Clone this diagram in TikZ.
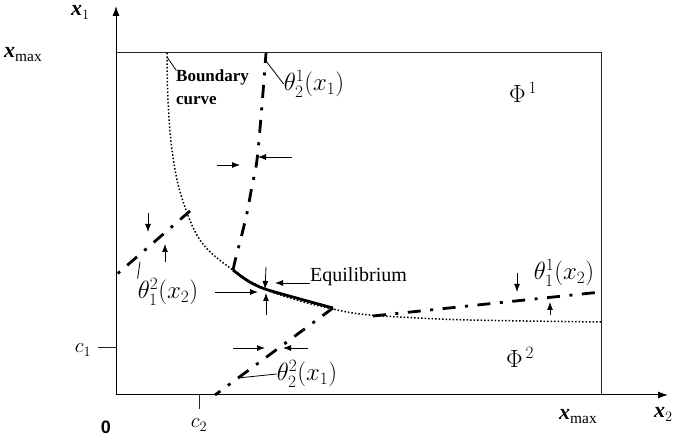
\documentclass[tikz,border=0pt]{standalone}
\usepackage{amsmath}
\usepackage{fontspec}
\setmainfont{Liberation Serif}
\newfontfamily\zerofont{Liberation Sans}
\usetikzlibrary{arrows.meta}

\begin{document}
\begin{tikzpicture}[
    x=1pt, y=-1pt,
    axis/.style={-{Latex[length=10pt,width=7pt]}, line width=1pt},
    frame/.style={line width=1pt, draw=black!85},
    bcurve/.style={line width=1.5pt, dash pattern=on 1.5pt off 2pt},
    react/.style={line width=2.8pt, dash pattern=on 13pt off 9.5pt on 3pt off 9.5pt},
    eqcurve/.style={line width=2.8pt},
    pin/.style={-{Latex[length=8pt,width=6pt]}, line width=0.8pt},
    lead/.style={line width=0.8pt},
    lab/.style={inner sep=0pt, font=\fontsize{20}{23}\selectfont},
    mlab/.style={inner sep=0pt, font=\fontsize{25}{27}\selectfont},
    axlab/.style={inner sep=0pt, font=\fontsize{22}{24}\selectfont}
]
\useasboundingbox (0,0) rectangle (681,443);

% axes and admissible box
\coordinate (O) at (116,395);
\coordinate (ytop) at (116,6);
\coordinate (xend) at (668,395);
\coordinate (tl) at (116,53);
\coordinate (br) at (601,395);
\draw[axis] (O) -- (ytop);
\draw[axis] (O) -- (xend);
\draw[frame] (tl) -| (br);

% ticks
\coordinate (c1tick) at (116,348);
\coordinate (c2tick) at (199,395);
\draw[frame] (c1tick) -- ++(-18,0);
\draw[frame] (c2tick) -- ++(0,14);

% axis labels
\node[axlab, anchor=base west] (x1lab) at (71,16) {\textbf{\textit{x}}$_1$};
\node[axlab, anchor=base west] (xmaxl) at (4,58) {\textbf{\textit{x}}$_{\mathrm{max}}$};
\node[axlab, anchor=base west] (xmaxb) at (559,420) {\textbf{\textit{x}}$_{\mathrm{max}}$};
\node[axlab, anchor=base west] (x2lab) at (654,418) {\textbf{\textit{x}}$_2$};
\node[inner sep=0pt, font=\zerofont\bfseries\fontsize{18}{18}\selectfont] (zero) at (106,427) {0};
\node[inner sep=0pt, font=\fontsize{20}{20}\selectfont] (c1lab) at (83,350) {$c_1$};
\node[inner sep=0pt, font=\fontsize{20}{20}\selectfont] (c2lab) at (199,425) {$c_2$};

% regions
\node[mlab] (phi1) at (523,92) {$\Phi^{\,1}$};
\node[mlab] (phi2) at (520,357) {$\Phi^{\,2}$};

% boundary curve
\draw[bcurve] plot[smooth, tension=0.6] coordinates {(167,53) (168,100) (172,150) (181,195)
    (200,240) (230,268) (265,289) (300,301) (333,309) (360,314) (400,317) (470,320) (601,322)};

% reaction curves
\coordinate (kink) at (233,270);
\coordinate (eq) at (265,289);
\coordinate (meet) at (333,308);
\draw[react] plot[smooth] coordinates {(kink) (236,257) (241,238) (247,213) (252,186) (257,160) (262,105) (266,53)};
\draw[eqcurve] plot[smooth] coordinates {(kink) (248,281) (eq) (300,299) (meet)};
\coordinate (t12a) at (190,211);
\coordinate (t12b) at (116,275);
\draw[react] (t12a) -- (t12b);
\coordinate (t22b) at (215,395);
\draw[react] (meet) -- (t22b);
\coordinate (t11a) at (373,316);
\coordinate (t11b) at (601,292);
\draw[react] (t11a) -- (t11b);

% curve labels
\node[lab, font=\fontsize{17}{23}\selectfont\bfseries, anchor=north west, align=left] (bnd) at (176,70) {Boundary\\curve};
\node[lab, anchor=base west] (equil) at (310,282) {Equilibrium};
\node[mlab] (th21) at (314,84) {$\theta_2^1(x_1)$};
\node[mlab] (th11) at (564,273) {$\theta_1^1(x_2)$};
\node[mlab] (th12) at (168,292) {$\theta_1^2(x_2)$};
\node[mlab] (th22) at (307,374) {$\theta_2^2(x_1)$};

% leaders
\coordinate (bndpt) at (167,57);
\coordinate (th21pt) at (266,61);
\coordinate (th12pt) at (140,262);
\coordinate (th22pt) at (238,378);
\draw[lead] (bndpt) -- (bnd.north west);
\draw[lead] (th21pt) -- (th21.west);
\draw[lead] (th12pt) -- (th12.north west);
\draw[lead] (th22pt) -- (th22.west);

% direction arrows
\draw[pin] (217,165) -- (240,165);
\draw[pin] (292,157) -- (258,157);
\draw[pin] (148,213) -- (148,232);
\draw[pin] (165,262) -- (165,244);
\draw[pin] (266,267) -- (eq);
\draw[pin] (266,315) -- (266,293);
\draw[pin] (215,292) -- (258,292);
\draw[pin] (equil.west |- 0,283) -- (275,283);
\draw[pin] (233,348) -- (265,348);
\draw[pin] (308,348) -- (283,348);
\draw[pin] (517,273) -- (517,292);
\draw[pin] (550,315) -- (550,302);

\end{tikzpicture}
\end{document}
